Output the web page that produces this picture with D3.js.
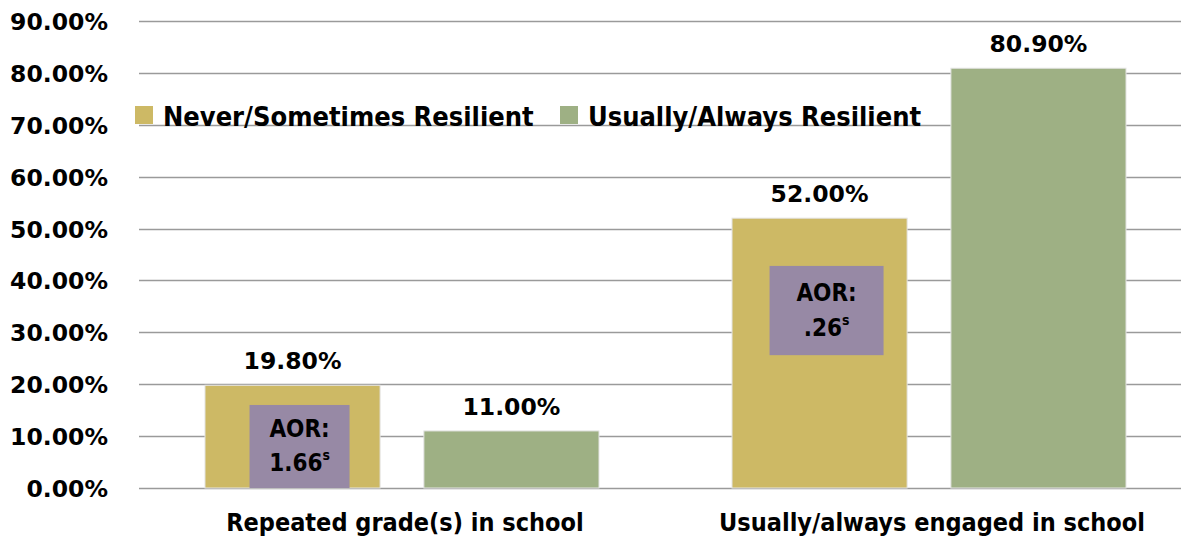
<!DOCTYPE html>
<html>
<head>
<meta charset="utf-8">
<script src="https://cdn.jsdelivr.net/npm/d3@7"></script>
<style>
  body { margin: 0; background: #fff; }
  svg { display: block; }
  .num { font-family: "DejaVu Sans", sans-serif; font-weight: bold; }
  .cal { font-family: "DejaVu Sans Condensed", sans-serif; font-weight: bold; }
</style>
</head>
<body>
<div id="chart"></div>
<script>
// categories and series
const categories = ["Repeated grade(s) in school", "Usually/always engaged in school"];
const seriesNames = ["Never/Sometimes Resilient", "Usually/Always Resilient"];
const neverValues = [19.8, 52.0];
const alwaysValues = [11.0, 80.9];
const yTicks = [0, 10, 20, 30, 40, 50, 60, 70, 80, 90];

// AOR boxes sit on the Never/Sometimes bars
const aorCategory = ["Repeated grade(s) in school", "Usually/always engaged in school"];
const aorLow = [0, 25.6];
const aorHigh = [16.0, 42.8];
const aorLabel = ["1.66", ".26"];

const colors = { "Never/Sometimes Resilient": "#cdb965", "Usually/Always Resilient": "#9eb084" };

const width = 1181, height = 538;

const svg = d3.select("#chart").append("svg")
    .attr("width", width)
    .attr("height", height);

const y = d3.scaleLinear().domain([0, 90]).range([488, 21]);

const x0 = d3.scaleBand()
    .domain(categories)
    .range([140, 1191])
    .paddingInner(0.2524)
    .paddingOuter(0.1233);

const x1 = d3.scaleBand()
    .domain(seriesNames)
    .range([0, x0.bandwidth()])
    .paddingInner(0.2);

// gridlines
svg.append("g")
    .selectAll("line")
    .data(yTicks)
    .enter().append("line")
    .attr("x1", 139)
    .attr("x2", width)
    .attr("y1", d => Math.round(y(d)) + 0.5)
    .attr("y2", d => Math.round(y(d)) + 0.5)
    .attr("stroke", "#9a9a9a")
    .attr("stroke-width", 1.5);

// y axis labels
const yAxis = svg.append("g")
    .attr("transform", "translate(108,0)")
    .call(d3.axisLeft(y).tickValues(yTicks).tickSize(0).tickPadding(0)
        .tickFormat(d => d.toFixed(2) + "%"));
yAxis.select(".domain").remove();
yAxis.attr("font-family", null).attr("font-size", null);
yAxis.selectAll("text")
    .attr("class", "num")
    .attr("font-size", 23.5)
    .attr("fill", "#000")
    .attr("dy", "0.36em");

// bars
const rows = categories.map((c, i) => ({
    category: c,
    values: [
        { series: seriesNames[0], value: neverValues[i] },
        { series: seriesNames[1], value: alwaysValues[i] }
    ]
}));

const group = svg.append("g")
    .selectAll("g")
    .data(rows)
    .enter().append("g")
    .attr("transform", d => `translate(${x0(d.category)},0)`);

group.selectAll("rect")
    .data(d => d.values)
    .enter().append("rect")
    .attr("x", d => x1(d.series))
    .attr("y", d => y(d.value))
    .attr("width", x1.bandwidth())
    .attr("height", d => y(0) - y(d.value))
    .attr("fill", d => colors[d.series])
    .attr("stroke", "#e4e4e4")
    .attr("stroke-width", 1);

// value labels
group.selectAll("text.val")
    .data(d => d.values)
    .enter().append("text")
    .attr("class", "num val")
    .attr("x", d => x1(d.series) + x1.bandwidth() / 2)
    .attr("y", d => y(d.value) - 16)
    .attr("text-anchor", "middle")
    .attr("font-size", 23.5)
    .text(d => d.value.toFixed(2) + "%");

// AOR boxes
const aor = aorCategory.map((c, i) => ({ category: c, low: aorLow[i], high: aorHigh[i], label: aorLabel[i], wide: i === 0 ? 100 : 114 }));
const aorG = svg.append("g")
    .selectAll("g")
    .data(aor)
    .enter().append("g")
    .attr("transform", d => {
        const cx = x0(d.category) + x1(seriesNames[0]) + x1.bandwidth() / 2 + 7;
        return `translate(${cx},0)`;
    });

aorG.append("rect")
    .attr("x", d => -d.wide / 2)
    .attr("y", d => y(d.high))
    .attr("width", d => d.wide)
    .attr("height", d => y(d.low) - y(d.high))
    .attr("fill", "#9789a5");

aorG.append("text")
    .attr("class", "cal")
    .attr("text-anchor", "middle")
    .attr("font-size", 24)
    .attr("y", d => (y(d.high) + y(d.low)) / 2 - 9.5)
    .text("AOR:");

const aorVal = aorG.append("text")
    .attr("class", "cal")
    .attr("text-anchor", "middle")
    .attr("font-size", 24)
    .attr("y", d => (y(d.high) + y(d.low)) / 2 + 25);
aorVal.append("tspan").text(d => d.label);
aorVal.append("tspan")
    .attr("font-size", 14)
    .attr("dy", -11)
    .text("s");

// category labels
svg.append("g")
    .selectAll("text")
    .data(categories)
    .enter().append("text")
    .attr("class", "cal")
    .attr("x", d => x0(d) + x0.bandwidth() / 2 + 3)
    .attr("y", 531)
    .attr("text-anchor", "middle")
    .attr("font-size", 25)
    .text(d => d);

// legend
const legend = svg.append("g")
    .attr("transform", "translate(135,0)");
const legendX = [0, 425];
const li = legend.selectAll("g")
    .data(seriesNames)
    .enter().append("g")
    .attr("transform", (d, i) => `translate(${legendX[i]},0)`);
li.append("rect")
    .attr("y", 106)
    .attr("width", 18)
    .attr("height", 18)
    .attr("fill", d => colors[d]);
li.append("text")
    .attr("class", "cal")
    .attr("x", 28)
    .attr("y", 126)
    .attr("font-size", 27)
    .text(d => d);
</script>
</body>
</html>
